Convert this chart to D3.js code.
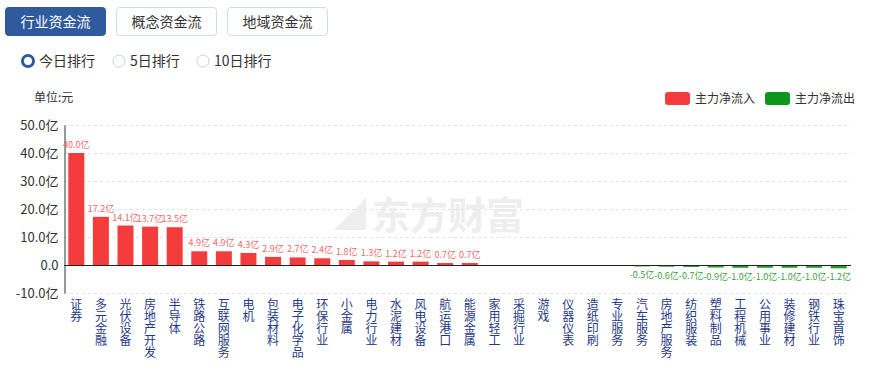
<!DOCTYPE html>
<html><head><meta charset="utf-8">
<script src="https://cdn.jsdelivr.net/npm/d3@7/dist/d3.min.js"></script>
<style>
body{margin:0;background:#fff;font-family:"Noto Sans CJK SC","Noto Sans",sans-serif;}
svg{display:block;}
</style></head>
<body>
<svg id="c" width="871" height="369"></svg>
<script>
const categories = ["证券","多元金融","光伏设备","房地产开发","半导体","铁路公路","互联网服务","电机","包装材料","电子化学品","环保行业","小金属","电力行业","水泥建材","风电设备","航运港口","能源金属","家用轻工","采掘行业","游戏","仪器仪表","造纸印刷","专业服务","汽车服务","房地产服务","纺织服装","塑料制品","工程机械","公用事业","装修建材","钢铁行业","珠宝首饰"];
const values = [40.0,17.2,14.1,13.7,13.5,4.9,4.9,4.3,2.9,2.7,2.4,1.8,1.3,1.2,1.2,0.7,0.7,-0.05,-0.1,-0.1,-0.2,-0.3,-0.3,-0.5,-0.6,-0.7,-0.9,-1.0,-1.0,-1.0,-1.0,-1.2];
const yTicks = [50,40,30,20,10,0,-10];
const tabs = ["行业资金流","概念资金流","地域资金流"];
const radios = ["今日排行","5日排行","10日排行"];
const legendItems = ["主力净流入","主力净流出"];

const RED = "#f53c3c";
const svg = d3.select("#c");
const font = '"Noto Sans CJK SC","Noto Sans",sans-serif';
const rows = categories.map((c,i)=>({c, v: values[i]}));

// tabs
const tabX = [5,116,227];
tabs.forEach((t,i)=>{
  const g = svg.append("g");
  g.append("rect").attr("x",tabX[i]+0.5).attr("y",7.5).attr("width",100).attr("height",28).attr("rx",3)
    .attr("fill", i===0 ? "#2f5a9d" : "#fff").attr("stroke", i===0 ? "#2f5a9d" : "#d3dbe6");
  g.append("text").attr("x",tabX[i]+50.5).attr("y",27).attr("text-anchor","middle")
    .attr("font-size",14).attr("font-family",font).attr("fill", i===0?"#fff":"#333").text(t);
});
// radios
const radX = [28,119,203];
radios.forEach((r,i)=>{
  if(i===0){
    svg.append("circle").attr("cx",radX[i]).attr("cy",61).attr("r",5.5).attr("fill","#fff").attr("stroke","#2f5a9d").attr("stroke-width",3);
  } else {
    svg.append("circle").attr("cx",radX[i]).attr("cy",61).attr("r",6).attr("fill","#fff").attr("stroke","#c9d3e0").attr("stroke-width",1);
  }
  svg.append("text").attr("x",radX[i]+11).attr("y",66).attr("font-size",14).attr("font-family",font).attr("fill","#333").text(r);
});

// unit
svg.append("text").attr("x",34).attr("y",102).attr("font-size",12).attr("font-family",font).attr("fill","#333").text("单位:元");

// legend
const legX = [665,765];
legendItems.forEach((l,i)=>{
  svg.append("rect").attr("x",legX[i]).attr("y",92).attr("width",25).attr("height",13).attr("rx",3).attr("fill", i===0?RED:"#0d961c");
  svg.append("text").attr("x",legX[i]+30).attr("y",103).attr("font-size",12).attr("font-family",font).attr("fill","#333").text(l);
});

// watermark
const wm = svg.append("g");
wm.append("text").attr("x",372).attr("y",229).attr("font-size",38).attr("font-weight","bold").attr("font-family",font)
  .attr("fill","#eeeeee").text("东方财富");
wm.append("text").attr("x",334).attr("y",226).attr("font-size",32).attr("font-weight","bold").attr("font-family",font)
  .attr("fill","#eeeeee").text("◢");

// scales
const x = d3.scaleBand().domain(categories).range([64,851]).paddingInner(0.35).paddingOuter(0.175);
const y = d3.scaleLinear().domain([-10,50]).range([293,125]);

// grid
svg.append("g").selectAll("line").data(yTicks.filter(d=>d!==0)).join("line")
  .attr("x1",64).attr("x2",851).attr("y1",d=>Math.round(y(d))+0.5).attr("y2",d=>Math.round(y(d))+0.5)
  .attr("stroke","#e3e3e3").attr("stroke-dasharray","3,3");

// y axis
const yAxis = d3.axisLeft(y).tickValues(yTicks).tickSize(0).tickPadding(6)
  .tickFormat(d=> d===0 ? "0.0" : d.toFixed(1)+"亿");
const ya = svg.append("g").attr("transform","translate(64.5,0)").call(yAxis);
ya.select(".domain").attr("stroke","#333");
ya.selectAll("text").attr("font-size",13).attr("font-family",font).attr("fill","#333");

// bars
svg.append("g").selectAll("rect").data(rows).join("rect")
  .attr("x",d=>x(d.c))
  .attr("width",x.bandwidth())
  .attr("y",d=> d.v>=0 ? y(d.v) : y(0))
  .attr("height",d=> Math.abs(y(d.v)-y(0)))
  .attr("fill",d=> d.v>=0 ? RED : "#1f9e2c");

// zero line
svg.append("line").attr("x1",64).attr("x2",851).attr("y1",Math.round(y(0))+0.5).attr("y2",Math.round(y(0))+0.5).attr("stroke","#222").attr("stroke-width",1.2);

// value labels
svg.append("g").selectAll("text").data(rows.filter(d=>Math.abs(d.v)>=0.5)).join("text")
  .attr("x",d=>x(d.c)+x.bandwidth()/2)
  .attr("y",d=> d.v>=0 ? y(d.v)-5 : y(d.v)+12)
  .attr("text-anchor","middle").attr("font-size",9).attr("font-family",font)
  .attr("fill",d=> d.v>=0 ? "#ec6a6a" : "#3f9f45")
  .text(d=>d.v.toFixed(1)+"亿");

// x labels vertical (one text per category, vertical writing mode)
svg.append("g").selectAll("text").data(categories).join("text")
  .attr("x",c=>x(c)+x.bandwidth()/2)
  .attr("y",298)
  .attr("writing-mode","vertical-rl")
  .style("writing-mode","vertical-rl")
  .style("text-orientation","upright")
  .attr("font-size",12).attr("font-family",font).attr("fill","#1f3a87")
  .text(c=>c);
</script>
</body></html>
